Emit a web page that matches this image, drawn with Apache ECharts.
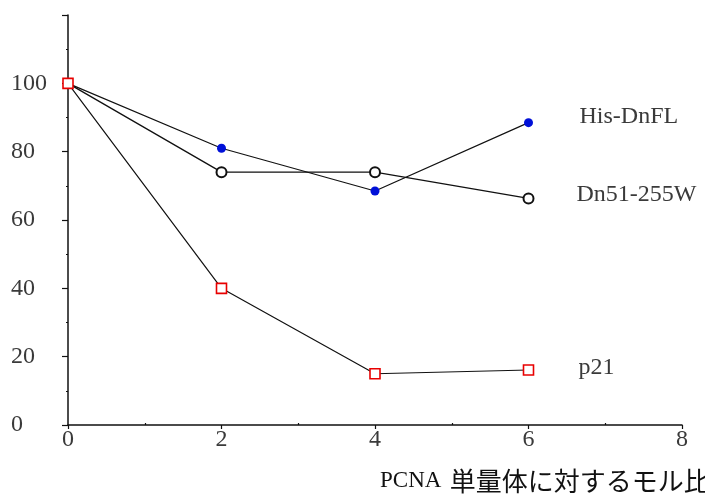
<!DOCTYPE html>
<html>
<head>
<meta charset="utf-8">
<script src="https://cdn.jsdelivr.net/npm/echarts@6/dist/echarts.min.js"></script>
<style>
  html, body { margin: 0; padding: 0; background: #fff; }
  #chart { width: 705px; height: 503px; }
</style>
</head>
<body>
<div id="chart"></div>
<script>
// Molar ratio (x) and relative activity (%) for each construct
const molarRatio = [0, 2, 4, 6];
const hisDnFL = [100, 81, 68.5, 88.5];
const dn51_255W = [100, 74, 74, 66.3];
const p21 = [100, 40, 15, 16.1];
const seriesNames = ['His-DnFL', 'Dn51-255W', 'p21'];
const xTicks = [0, 2, 4, 6, 8];
const yTicks = [0, 20, 40, 60, 80, 100];
const titleLatin = 'PCNA';
const titleJa = '単量体に対するモル比';

const serif = "'Liberation Serif', 'DejaVu Serif', serif";
const pairs = vals => molarRatio.map((x, i) => [x, vals[i]]);
// shared starting point is shown only once (the p21 square on top)
const skipFirst = shape => (v, p) => (p.dataIndex === 0 ? 'none' : shape);

const labelFont = { fontFamily: serif, fontSize: 24, color: '#3a3a3a' };

const chart = echarts.init(document.getElementById('chart'), null, { renderer: 'canvas' });
chart.setOption({
  animation: false,
  backgroundColor: '#ffffff',
  grid: { left: 68, right: 23, top: 15, bottom: 78, containLabel: false },
  xAxis: {
    type: 'value', min: 0, max: 8, interval: 2,
    axisLine: { show: true, onZero: false, lineStyle: { color: '#111', width: 1.5 } },
    axisTick: { show: true, length: 4, lineStyle: { color: '#111', width: 1.2 } },
    minorTick: { show: true, splitNumber: 2, length: -2, lineStyle: { color: '#111', width: 1.2 } },
    splitLine: { show: false },
    axisLabel: Object.assign({ margin: 3,
      formatter: v => (xTicks.includes(v) ? String(v) : '') }, labelFont)
  },
  yAxis: {
    type: 'value', min: 0, max: 120, interval: 20,
    axisLine: { show: true, onZero: false, lineStyle: { color: '#111', width: 1.5 } },
    axisTick: { show: true, length: 6, lineStyle: { color: '#111', width: 1.2 } },
    minorTick: { show: true, splitNumber: 2, length: 2, lineStyle: { color: '#111', width: 1.2 } },
    splitLine: { show: false },
    axisLabel: Object.assign({ margin: 57, align: 'left', verticalAlign: 'middle', padding: [0, 0, 6, 0],
      formatter: v => (yTicks.includes(v) ? String(v) : '') }, labelFont)
  },
  graphic: [{
    type: 'text', left: 380, top: 468, z: 10,
    style: {
      text: '{a|' + titleLatin + '} {b|' + titleJa + '}',
      rich: {
        a: { fontFamily: serif, fontSize: 23, fill: '#111', color: '#111', padding: [0, 5, 0, 0] },
        b: { fontFamily: "'Noto Sans CJK JP', sans-serif", fontSize: 26, fill: '#111', color: '#111' }
      }
    }
  }],
  series: [
    {
      name: seriesNames[0], type: 'line', data: pairs(hisDnFL), z: 2,
      symbol: skipFirst('circle'), symbolSize: 9,
      lineStyle: { color: '#111', width: 1.2 },
      itemStyle: { color: '#0010d8', borderColor: '#0010d8', borderWidth: 0 },
      endLabel: Object.assign({ show: true, formatter: '{a}', distance: 0, offset: [51, -6] }, labelFont)
    },
    {
      name: seriesNames[1], type: 'line', data: pairs(dn51_255W), z: 3,
      symbol: skipFirst('circle'), symbolSize: 10,
      lineStyle: { color: '#111', width: 1.3 },
      itemStyle: { color: '#ffffff', borderColor: '#111', borderWidth: 2 },
      endLabel: Object.assign({ show: true, formatter: '{a}', distance: 0, offset: [48, -4] }, labelFont)
    },
    {
      name: seriesNames[2], type: 'line', data: pairs(p21), z: 4,
      symbol: 'rect', symbolSize: 10,
      lineStyle: { color: '#111', width: 1.2 },
      itemStyle: { color: '#ffffff', borderColor: '#e80000', borderWidth: 1.6 },
      endLabel: Object.assign({ show: true, formatter: '{a}', distance: 0, offset: [50, -2] }, labelFont)
    }
  ]
});
</script>
</body>
</html>
